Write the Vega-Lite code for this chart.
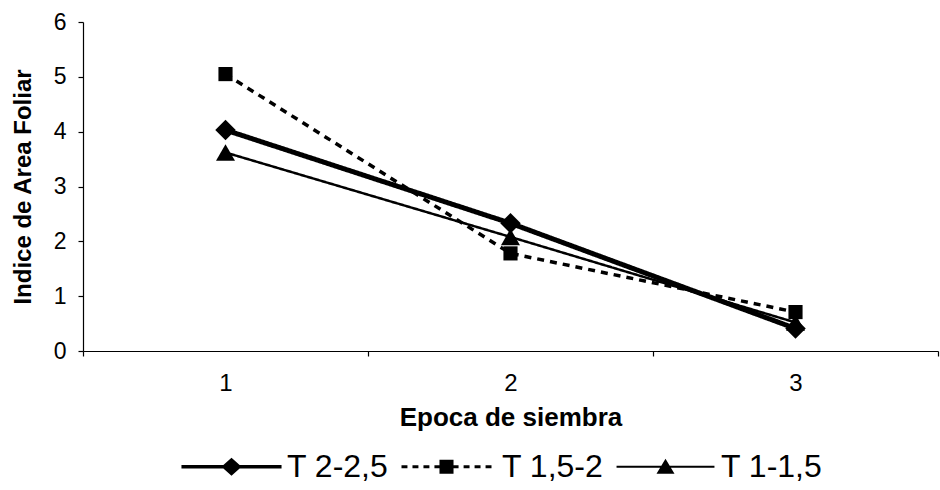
{
  "$schema": "https://vega.github.io/schema/vega-lite/v6.json",
  "width": 855,
  "height": 329,
  "autosize": "none",
  "padding": {"left": 83, "top": 22, "right": 2, "bottom": 139},
  "background": "white",
  "config": {
    "view": {"stroke": null},
    "font": "Liberation Sans",
    "axis": {"domainColor": "black", "tickColor": "black", "labelColor": "black", "titleColor": "black", "grid": false, "domainWidth": 1.2, "tickWidth": 1.2}
  },
  "data": {
    "values": [
      {"serie": "T 2-2,5", "epoca": "1", "iaf": 4.03},
      {"serie": "T 2-2,5", "epoca": "2", "iaf": 2.33},
      {"serie": "T 2-2,5", "epoca": "3", "iaf": 0.41},
      {"serie": "T 1,5-2", "epoca": "1", "iaf": 5.05},
      {"serie": "T 1,5-2", "epoca": "2", "iaf": 1.78},
      {"serie": "T 1,5-2", "epoca": "3", "iaf": 0.71},
      {"serie": "T 1-1,5", "epoca": "1", "iaf": 3.62},
      {"serie": "T 1-1,5", "epoca": "2", "iaf": 2.08},
      {"serie": "T 1-1,5", "epoca": "3", "iaf": 0.52}
    ]
  },
  "encoding": {
    "x": {
      "field": "epoca", "type": "ordinal",
      "scale": {"type": "band", "paddingInner": 0, "paddingOuter": 0},
      "axis": {"title": "Epoca de siembra", "labelAngle": 0, "tickBand": "extent", "tickSize": 5, "labelPadding": 15, "labelFontSize": 24, "titleFontSize": 26, "titleFontWeight": "bold", "titlePadding": 9}
    },
    "y": {
      "field": "iaf", "type": "quantitative",
      "scale": {"domain": [0, 6], "nice": false},
      "axis": {"title": "Indice de Area Foliar", "values": [0, 1, 2, 3, 4, 5, 6], "tickSize": 5, "labelPadding": 12, "labelFontSize": 23, "titleFontSize": 24, "titleFontWeight": "bold", "titlePadding": 18}
    }
  },
  "resolve": {"scale": {"shape": "independent"}},
  "layer": [
    {
      "mark": {"type": "line", "color": "black"},
      "encoding": {
        "detail": {"field": "serie"},
        "strokeDash": {"field": "serie", "type": "nominal", "scale": {"type": "ordinal", "domain": ["T 1,5-2", "T 1-1,5", "T 2-2,5"], "range": [[7, 6], [1, 0], [1, 0]]}, "legend": null},
        "strokeWidth": {"field": "serie", "type": "nominal", "scale": {"type": "ordinal", "domain": ["T 1,5-2", "T 1-1,5", "T 2-2,5"], "range": [3.5, 2.5, 5]}, "legend": null}
      }
    },
    {
      "mark": {"type": "point", "filled": true, "color": "black", "opacity": 1},
      "encoding": {
        "shape": {"field": "serie", "type": "nominal", "scale": {"domain": ["T 1,5-2", "T 1-1,5", "T 2-2,5"], "range": ["square", "triangle-up", "diamond"]}, "legend": null},
        "size": {"field": "serie", "type": "nominal", "scale": {"type": "ordinal", "domain": ["T 1,5-2", "T 1-1,5", "T 2-2,5"], "range": [200, 360, 420]}, "legend": null}
      }
    },
    {
      "transform": [{"filter": "false"}],
      "mark": {"type": "point", "filled": true, "fill": "black", "opacity": 1},
      "encoding": {
        "shape": {
          "field": "serie", "type": "nominal",
          "scale": {"domain": ["T 2-2,5", "T 1,5-2", "T 1-1,5"], "range": [
            "M-2.78,-0.1H2.78V0.1H-2.78ZM0,-0.5L0.56,0L0,0.5L-0.56,0Z",
            "M-2.5,-0.08H-2.17V0.08H-2.5ZM-1.89,-0.08H-1.56V0.08H-1.89ZM-1.28,-0.08H-0.95V0.08H-1.28ZM-0.67,-0.08H-0.39V0.08H-0.67ZM-0.39,-0.39H0.39V0.39H-0.39ZM0.39,-0.08H0.67V0.08H0.39ZM0.95,-0.08H1.28V0.08H0.95ZM1.56,-0.08H1.89V0.08H1.56ZM2.17,-0.08H2.5V0.08H2.17Z",
            "M-2.72,-0.05H2.72V0.05H-2.72ZM0,-0.44L0.5,0.39H-0.5Z"
          ]},
          "legend": {"title": null, "orient": "none", "legendX": 130, "legendY": 426, "direction": "horizontal", "padding": 0, "symbolSize": 1296, "symbolFillColor": "black", "symbolStrokeColor": "black", "symbolStrokeWidth": 0.5, "symbolOpacity": 1, "labelFontSize": 32, "labelFont": "Liberation Sans", "labelColor": "black", "labelOffset": 37, "columnPadding": 11}
        }
      }
    }
  ]
}
